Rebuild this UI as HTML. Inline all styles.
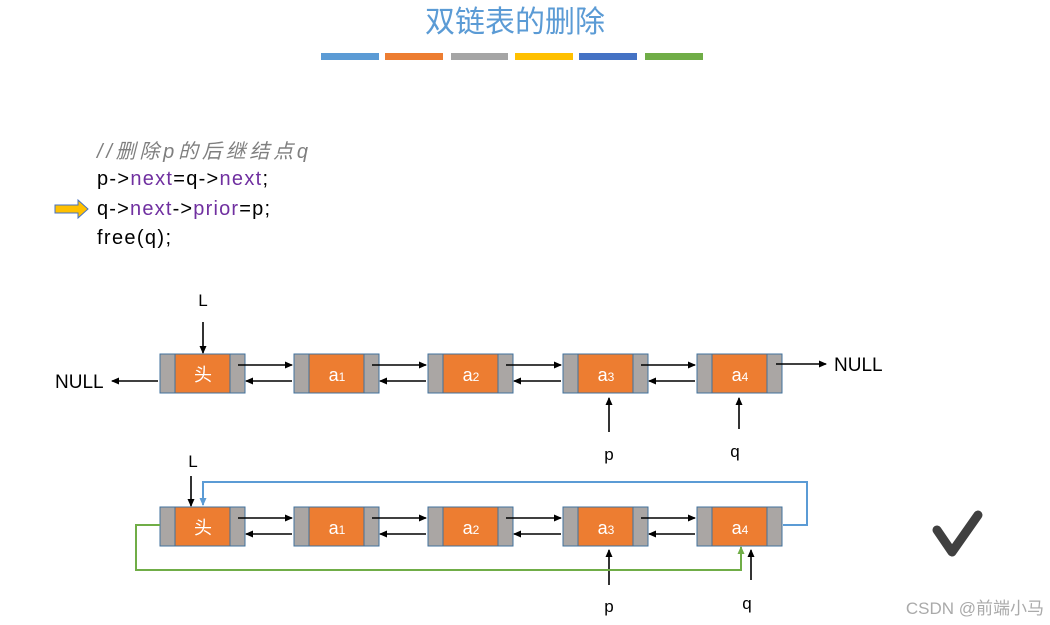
<!DOCTYPE html>
<html><head><meta charset="utf-8"><style>
html,body{margin:0;padding:0;background:#fff;}
svg{display:block;}
text{font-family:"Liberation Sans","Noto Sans CJK SC",sans-serif;}
</style></head><body>
<svg width="1050" height="625" viewBox="0 0 1050 625" xmlns="http://www.w3.org/2000/svg">
<defs>
<marker id="ah" markerWidth="8" markerHeight="8" refX="7" refY="4" orient="auto" markerUnits="userSpaceOnUse"><path d="M0,0.5 L8,4 L0,7.5 z" fill="#000"/></marker>
<marker id="ahb" markerWidth="8" markerHeight="8" refX="7" refY="4" orient="auto" markerUnits="userSpaceOnUse"><path d="M0,0.5 L8,4 L0,7.5 z" fill="#5b9bd5"/></marker>
<marker id="ahg" markerWidth="8" markerHeight="8" refX="7" refY="4" orient="auto" markerUnits="userSpaceOnUse"><path d="M0,0.5 L8,4 L0,7.5 z" fill="#70ad47"/></marker>
</defs>
<text x="515" y="32" font-size="30" fill="#5b9bd5" text-anchor="middle" font-family="'Noto Sans CJK SC',sans-serif">双链表的删除</text>
<g>
<rect x="321" y="53" width="58" height="7" fill="#5b9bd5"/>
<rect x="385" y="53" width="58" height="7" fill="#ed7d31"/>
<rect x="451" y="53" width="57" height="7" fill="#a5a5a5"/>
<rect x="515" y="53" width="58" height="7" fill="#ffc000"/>
<rect x="579" y="53" width="58" height="7" fill="#4472c4"/>
<rect x="645" y="53" width="58" height="7" fill="#70ad47"/>
</g>
<text x="97" y="158" font-size="20" fill="#7f7f7f" font-style="italic" textLength="211" lengthAdjust="spacing">//删除p的后继结点q</text>
<text x="97" y="185" font-size="20" fill="#000" textLength="171" lengthAdjust="spacing">p-&gt;<tspan fill="#7030a0">next</tspan>=q-&gt;<tspan fill="#7030a0">next</tspan>;</text>
<text x="97" y="215" font-size="20" fill="#000" textLength="173" lengthAdjust="spacing">q-&gt;<tspan fill="#7030a0">next</tspan>-&gt;<tspan fill="#7030a0">prior</tspan>=p;</text>
<text x="97" y="244" font-size="20" fill="#000" textLength="74" lengthAdjust="spacing">free(q);</text>
<path d="M55,205 L78,205 L78,200 L88,209 L78,218 L78,213 L55,213 z" fill="#ffc000" stroke="#4472c4" stroke-width="1"/>

<g id="row1">
<g transform="translate(160,354)"><rect x="0" y="0" width="15" height="39" fill="#aaa6a4" stroke="#41719c"/><rect x="15" y="0" width="55" height="39" fill="#ed7d31" stroke="#41719c"/><rect x="70" y="0" width="15" height="39" fill="#aaa6a4" stroke="#41719c"/><text x="43" y="27" font-size="18" fill="#fff" text-anchor="middle" font-family="'Noto Sans CJK SC',sans-serif">头</text></g>
<g transform="translate(294,354)"><rect x="0" y="0" width="15" height="39" fill="#aaa6a4" stroke="#41719c"/><rect x="15" y="0" width="55" height="39" fill="#ed7d31" stroke="#41719c"/><rect x="70" y="0" width="15" height="39" fill="#aaa6a4" stroke="#41719c"/><text x="43" y="27" font-size="18" fill="#fff" text-anchor="middle">a<tspan font-size="12">1</tspan></text></g>
<g transform="translate(428,354)"><rect x="0" y="0" width="15" height="39" fill="#aaa6a4" stroke="#41719c"/><rect x="15" y="0" width="55" height="39" fill="#ed7d31" stroke="#41719c"/><rect x="70" y="0" width="15" height="39" fill="#aaa6a4" stroke="#41719c"/><text x="43" y="27" font-size="18" fill="#fff" text-anchor="middle">a<tspan font-size="12">2</tspan></text></g>
<g transform="translate(563,354)"><rect x="0" y="0" width="15" height="39" fill="#aaa6a4" stroke="#41719c"/><rect x="15" y="0" width="55" height="39" fill="#ed7d31" stroke="#41719c"/><rect x="70" y="0" width="15" height="39" fill="#aaa6a4" stroke="#41719c"/><text x="43" y="27" font-size="18" fill="#fff" text-anchor="middle">a<tspan font-size="12">3</tspan></text></g>
<g transform="translate(697,354)"><rect x="0" y="0" width="15" height="39" fill="#aaa6a4" stroke="#41719c"/><rect x="15" y="0" width="55" height="39" fill="#ed7d31" stroke="#41719c"/><rect x="70" y="0" width="15" height="39" fill="#aaa6a4" stroke="#41719c"/><text x="43" y="27" font-size="18" fill="#fff" text-anchor="middle">a<tspan font-size="12">4</tspan></text></g>
</g>
<g stroke="#000" stroke-width="1.6" fill="none" marker-end="url(#ah)">
<line x1="238" y1="365" x2="292" y2="365"/><line x1="372" y1="365" x2="426" y2="365"/><line x1="506" y1="365" x2="561" y2="365"/><line x1="641" y1="365" x2="695" y2="365"/>
<line x1="292" y1="381" x2="246" y2="381"/><line x1="426" y1="381" x2="380" y2="381"/><line x1="561" y1="381" x2="514" y2="381"/><line x1="695" y1="381" x2="649" y2="381"/>
<line x1="158" y1="381" x2="112" y2="381"/><line x1="776" y1="364" x2="826" y2="364"/>
<line x1="203" y1="322" x2="203" y2="353"/><line x1="609" y1="432" x2="609" y2="398"/><line x1="739" y1="429" x2="739" y2="398"/>
</g>
<text x="55" y="388" font-size="19">NULL</text>
<text x="834" y="371" font-size="19">NULL</text>
<text x="203" y="306" font-size="17" text-anchor="middle">L</text>
<text x="609" y="460" font-size="17" text-anchor="middle">p</text>
<text x="735" y="457" font-size="17" text-anchor="middle">q</text>

<g transform="translate(0,153)">
<g transform="translate(160,354)"><rect x="0" y="0" width="15" height="39" fill="#aaa6a4" stroke="#41719c"/><rect x="15" y="0" width="55" height="39" fill="#ed7d31" stroke="#41719c"/><rect x="70" y="0" width="15" height="39" fill="#aaa6a4" stroke="#41719c"/><text x="43" y="27" font-size="18" fill="#fff" text-anchor="middle" font-family="'Noto Sans CJK SC',sans-serif">头</text></g>
<g transform="translate(294,354)"><rect x="0" y="0" width="15" height="39" fill="#aaa6a4" stroke="#41719c"/><rect x="15" y="0" width="55" height="39" fill="#ed7d31" stroke="#41719c"/><rect x="70" y="0" width="15" height="39" fill="#aaa6a4" stroke="#41719c"/><text x="43" y="27" font-size="18" fill="#fff" text-anchor="middle">a<tspan font-size="12">1</tspan></text></g>
<g transform="translate(428,354)"><rect x="0" y="0" width="15" height="39" fill="#aaa6a4" stroke="#41719c"/><rect x="15" y="0" width="55" height="39" fill="#ed7d31" stroke="#41719c"/><rect x="70" y="0" width="15" height="39" fill="#aaa6a4" stroke="#41719c"/><text x="43" y="27" font-size="18" fill="#fff" text-anchor="middle">a<tspan font-size="12">2</tspan></text></g>
<g transform="translate(563,354)"><rect x="0" y="0" width="15" height="39" fill="#aaa6a4" stroke="#41719c"/><rect x="15" y="0" width="55" height="39" fill="#ed7d31" stroke="#41719c"/><rect x="70" y="0" width="15" height="39" fill="#aaa6a4" stroke="#41719c"/><text x="43" y="27" font-size="18" fill="#fff" text-anchor="middle">a<tspan font-size="12">3</tspan></text></g>
<g transform="translate(697,354)"><rect x="0" y="0" width="15" height="39" fill="#aaa6a4" stroke="#41719c"/><rect x="15" y="0" width="55" height="39" fill="#ed7d31" stroke="#41719c"/><rect x="70" y="0" width="15" height="39" fill="#aaa6a4" stroke="#41719c"/><text x="43" y="27" font-size="18" fill="#fff" text-anchor="middle">a<tspan font-size="12">4</tspan></text></g>
<g stroke="#000" stroke-width="1.6" fill="none" marker-end="url(#ah)">
<line x1="238" y1="365" x2="292" y2="365"/><line x1="372" y1="365" x2="426" y2="365"/><line x1="506" y1="365" x2="561" y2="365"/><line x1="641" y1="365" x2="695" y2="365"/>
<line x1="292" y1="381" x2="246" y2="381"/><line x1="426" y1="381" x2="380" y2="381"/><line x1="561" y1="381" x2="514" y2="381"/><line x1="695" y1="381" x2="649" y2="381"/>
</g>
</g>
<g stroke="#000" stroke-width="1.6" fill="none" marker-end="url(#ah)">
<line x1="191" y1="476" x2="191" y2="506"/><line x1="609" y1="585" x2="609" y2="550"/><line x1="751" y1="580" x2="751" y2="550"/>
</g>
<path d="M783,525 L807,525 L807,482 L203,482 L203,505" stroke="#5b9bd5" stroke-width="2" fill="none" marker-end="url(#ahb)"/>
<path d="M160,525 L136,525 L136,570 L741,570 L741,547" stroke="#70ad47" stroke-width="2" fill="none" marker-end="url(#ahg)"/>
<text x="193" y="467" font-size="17" text-anchor="middle">L</text>
<text x="609" y="612" font-size="17" text-anchor="middle">p</text>
<text x="747" y="609" font-size="17" text-anchor="middle">q</text>
<path d="M937,530 L952,552 L978,515" stroke="#404040" stroke-width="9" stroke-linecap="round" stroke-linejoin="round" fill="none"/>
<text x="1044" y="614" font-size="17" fill="#aaa" text-anchor="end">CSDN @前端小马</text>
</svg>
</body></html>
